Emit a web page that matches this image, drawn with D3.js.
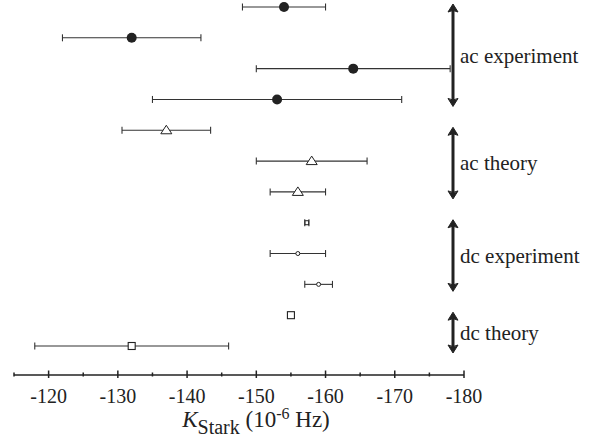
<!DOCTYPE html>
<html>
<head>
<meta charset="utf-8">
<script src="https://cdn.jsdelivr.net/npm/d3@7/dist/d3.min.js"></script>
<style>
  body { margin: 0; background: #fff; }
</style>
</head>
<body>
<div id="chart"></div>
<script>
// K_Stark values (10^-6 Hz), one row per measurement/calculation, top to bottom
const rowIds = ['r0', 'r1', 'r2', 'r3', 'r4', 'r5', 'r6', 'r7', 'r8', 'r9', 'r10', 'r11'];
const values = [-154, -132, -164, -153, -137, -158, -156, -157.3, -156, -159, -155, -132];
const errors = [6, 10, 14, 18, 6.4, 8, 4, 0.3, 4, 2, 0, 14];
const markers = ['bigdot', 'bigdot', 'bigdot', 'bigdot', 'triangle', 'triangle', 'triangle',
                 'square-small', 'circle', 'circle', 'square', 'square'];

// bracket groups on the right
const groupNames = ['ac experiment', 'ac theory', 'dc experiment', 'dc theory'];
const groupFirst = [0, 4, 7, 10];
const groupLast = [3, 6, 9, 11];

const xTicks = [-120, -130, -140, -150, -160, -170, -180];

const width = 600, height = 441;
const serif = "'Liberation Serif', 'DejaVu Serif', 'Times New Roman', Times, serif";
const svg = d3.select('#chart').append('svg')
    .attr('width', width)
    .attr('height', height)
    .attr('font-family', serif)
    .style('font-family', serif);

const xScale = d3.scaleLinear()
    .domain([-115, -180])
    .range([14, 464]);

const yScale = d3.scalePoint()
    .domain(rowIds)
    .range([7, 346]);

const axisY = 375;
const ink = '#222';

// Axis
const axis = svg.append('g')
    .attr('transform', `translate(0,${axisY})`);

axis.append('line')
    .attr('x1', xScale.range()[0]).attr('x2', xScale.range()[1])
    .attr('stroke', ink).attr('stroke-width', 1.5);

const minorTicks = d3.range(-115, -181, -5);
axis.selectAll('.minor')
    .data(minorTicks)
    .enter().append('line')
    .attr('x1', d => xScale(d)).attr('x2', d => xScale(d))
    .attr('y1', d => (d % 10 === 0 ? -4.5 : -2.5))
    .attr('y2', d => (d % 10 === 0 ? 3 : 1.5))
    .attr('stroke', ink).attr('stroke-width', 1.5);

axis.selectAll('.tick-label')
    .data(xTicks)
    .enter().append('text')
    .attr('x', d => xScale(d))
    .attr('y', 28)
    .attr('text-anchor', 'middle')
    .attr('fill', ink)
    .style('font-size', '20px')
    .text(d => d);

// Axis title: K_Stark (10^-6 Hz)
const title = svg.append('text')
    .attr('x', 256)
    .attr('y', 427)
    .attr('text-anchor', 'middle')
    .attr('fill', ink)
    .style('font-size', '23px');
title.append('tspan').style('font-style', 'italic').text('K');
title.append('tspan').attr('dy', 7).style('font-size', '20px').text('Stark');
title.append('tspan').attr('dy', -7).text(' (10');
title.append('tspan').attr('dy', -8).style('font-size', '16px').text('-6');
title.append('tspan').attr('dy', 8).text(' Hz)');

// Error bars
const rows = rowIds.map((id, i) => ({ id, v: values[i], e: errors[i], m: markers[i] }));
const withErr = rows.filter(d => d.e > 0);

const bars = svg.append('g');
bars.selectAll('.err')
    .data(withErr)
    .enter().append('line')
    .attr('x1', d => xScale(d.v - d.e))
    .attr('x2', d => xScale(d.v + d.e))
    .attr('y1', d => yScale(d.id))
    .attr('y2', d => yScale(d.id))
    .attr('stroke', '#333').attr('stroke-width', 1.1);

bars.selectAll('.cap')
    .data(withErr.flatMap(d => [
        { id: d.id, x: d.v - d.e }, { id: d.id, x: d.v + d.e }
    ]))
    .enter().append('line')
    .attr('x1', d => xScale(d.x)).attr('x2', d => xScale(d.x))
    .attr('y1', d => yScale(d.id) - 3.5)
    .attr('y2', d => yScale(d.id) + 3.5)
    .attr('stroke', '#333').attr('stroke-width', 1.1);

// Markers
const pts = svg.append('g');
rows.forEach(d => {
    const cx = xScale(d.v), cy = yScale(d.id);
    if (d.m === 'bigdot') {
        pts.append('circle').attr('cx', cx).attr('cy', cy).attr('r', 5).attr('fill', ink);
    } else if (d.m === 'triangle') {
        pts.append('path')
            .attr('d', `M${cx},${cy - 5} L${cx + 5.5},${cy + 3.5} L${cx - 5.5},${cy + 3.5} Z`)
            .attr('fill', '#fff').attr('stroke', ink).attr('stroke-width', 1);
    } else if (d.m === 'circle') {
        pts.append('circle').attr('cx', cx).attr('cy', cy).attr('r', 2)
            .attr('fill', '#fff').attr('stroke', ink).attr('stroke-width', 1);
    } else if (d.m === 'square') {
        pts.append('rect').attr('x', cx - 3.5).attr('y', cy - 3.5)
            .attr('width', 7).attr('height', 7)
            .attr('fill', '#fff').attr('stroke', ink).attr('stroke-width', 1.1);
    } else if (d.m === 'square-small') {
        pts.append('rect').attr('x', cx - 1.8).attr('y', cy - 2)
            .attr('width', 3.6).attr('height', 4)
            .attr('fill', '#fff').attr('stroke', ink).attr('stroke-width', 1);
    }
});

// Group brackets (double-headed arrows) and labels
const arrowX = 453;
const groups = groupNames.map((name, i) => ({
    name,
    top: yScale(rowIds[groupFirst[i]]) - 3,
    bottom: yScale(rowIds[groupLast[i]]) + 7
}));

const brackets = svg.append('g');
groups.forEach(g => {
    brackets.append('line')
        .attr('x1', arrowX).attr('x2', arrowX)
        .attr('y1', g.top + 3).attr('y2', g.bottom - 3)
        .attr('stroke', ink).attr('stroke-width', 3);
    // top head
    brackets.append('path')
        .attr('d', `M${arrowX},${g.top} L${arrowX + 5},${g.top + 8} Q${arrowX},${g.top + 5} ${arrowX - 5},${g.top + 8} Z`)
        .attr('fill', ink).attr('stroke', ink).attr('stroke-width', 1);
    // bottom head
    brackets.append('path')
        .attr('d', `M${arrowX},${g.bottom} L${arrowX + 5},${g.bottom - 8} Q${arrowX},${g.bottom - 5} ${arrowX - 5},${g.bottom - 8} Z`)
        .attr('fill', ink).attr('stroke', ink).attr('stroke-width', 1);

    brackets.append('text')
        .attr('x', arrowX + 7)
        .attr('y', (g.top + g.bottom) / 2)
        .attr('dy', '0.35em')
        .attr('fill', ink)
        .style('font-size', '21px')
        .text(g.name);
});
</script>
</body>
</html>
